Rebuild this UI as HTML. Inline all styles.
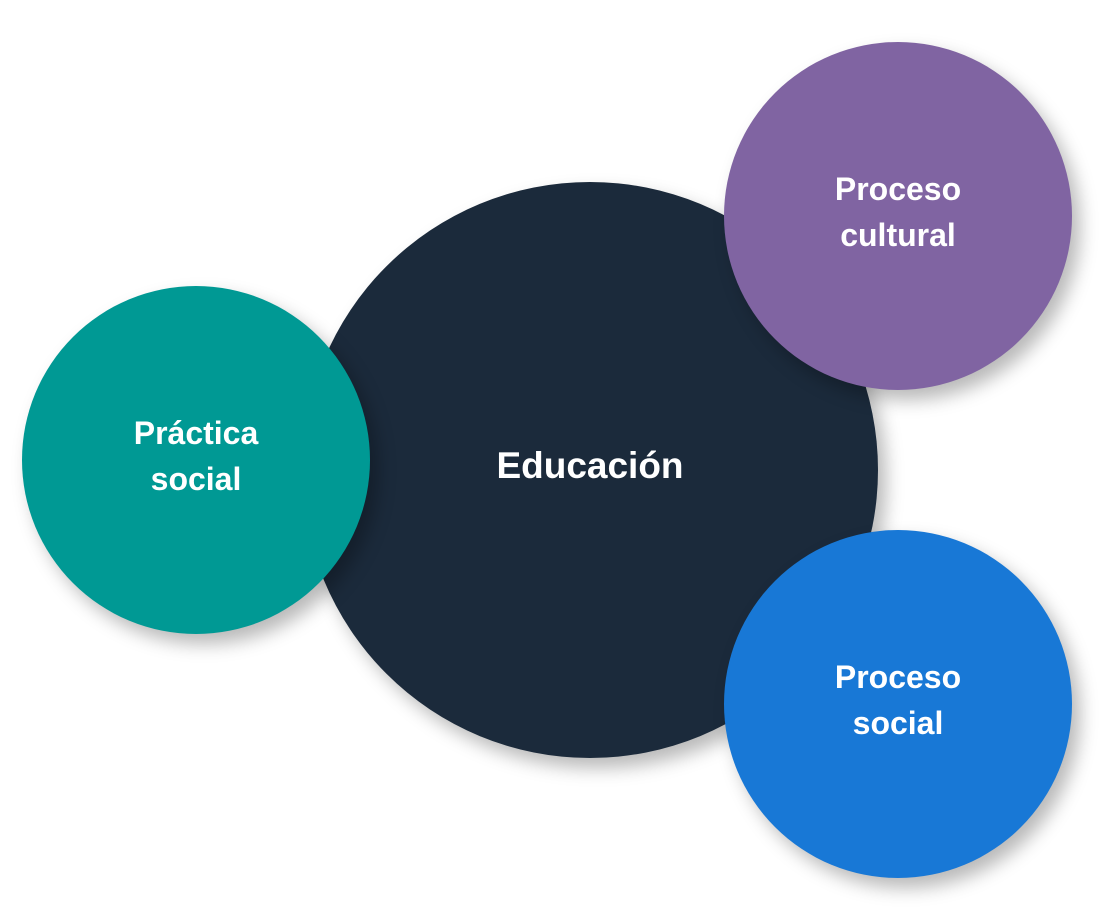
<!DOCTYPE html>
<html><head><meta charset="utf-8"><style>
html,body{margin:0;padding:0;background:#fff;width:1101px;height:921px;overflow:hidden}
.c{position:absolute;border-radius:50%;display:flex;align-items:center;justify-content:center;text-align:center;color:#fff;font-family:"Liberation Sans",sans-serif;font-weight:bold;box-shadow:8px 10px 18px rgba(0,0,0,0.28);box-sizing:border-box;padding-bottom:8px}
</style></head><body>
<div class="c" style="left:302px;top:182px;width:576px;height:576px;background:#1b2a3b;font-size:37px;">Educación</div>
<div class="c" style="left:22px;top:286px;width:348px;height:348px;background:#009994;font-size:32px;line-height:46px;">Práctica<br>social</div>
<div class="c" style="left:724px;top:42px;width:348px;height:348px;background:#8064a2;font-size:32px;line-height:46px;">Proceso<br>cultural</div>
<div class="c" style="left:724px;top:530px;width:348px;height:348px;background:#1878d6;font-size:32px;line-height:46px;">Proceso<br>social</div>
</body></html>
